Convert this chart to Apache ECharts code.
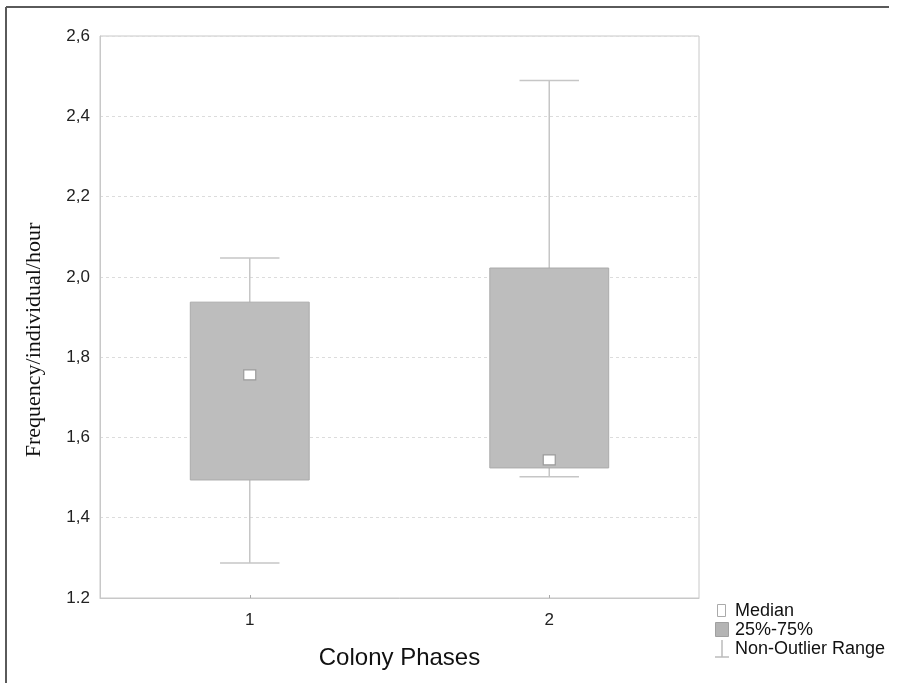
<!DOCTYPE html>
<html>
<head>
<meta charset="utf-8">
<script src="https://cdn.jsdelivr.net/npm/echarts@6/dist/echarts.min.js"></script>
<style>html,body{margin:0;padding:0;background:#fff;}#c{width:897px;height:683px;}</style>
</head>
<body>
<div id="c"></div>
<script>
const categories = ['1', '2'];
const whiskerMin = [1.287, 1.502];
const quartile1 = [1.494, 1.524];
const medians = [1.756, 1.544];
const quartile3 = [1.937, 2.022];
const whiskerMax = [2.047, 2.489];
const yTickLabels = ['1.2', '1,4', '1,6', '1,8', '2,0', '2,2', '2,4', '2,6'];
const legendLabels = ['Median', '25%-75%', 'Non-Outlier Range'];

const data = categories.map((c, i) => [i, whiskerMin[i], quartile1[i], medians[i], quartile3[i], whiskerMax[i]]);

const chart = echarts.init(document.getElementById('c'));

function renderItem(params, api) {
  const x = api.value(0);
  const pMin = api.coord([x, api.value(1)]);
  const pQ1 = api.coord([x, api.value(2)]);
  const pMed = api.coord([x, api.value(3)]);
  const pQ3 = api.coord([x, api.value(4)]);
  const pMax = api.coord([x, api.value(5)]);
  const band = api.size([1, 0])[0];
  const bw = band * 0.397;
  const cw = bw / 2;
  const cx = pMin[0];
  const ws = { stroke: '#c6c6c6', lineWidth: 1.5 };
  return {
    type: 'group',
    children: [
      { type: 'line', shape: { x1: cx, y1: pMax[1], x2: cx, y2: pQ3[1] }, style: ws },
      { type: 'line', shape: { x1: cx, y1: pQ1[1], x2: cx, y2: pMin[1] }, style: ws },
      { type: 'line', shape: { x1: cx - cw / 2, y1: pMax[1], x2: cx + cw / 2, y2: pMax[1] }, style: ws },
      { type: 'line', shape: { x1: cx - cw / 2, y1: pMin[1], x2: cx + cw / 2, y2: pMin[1] }, style: ws },
      { type: 'rect', shape: { x: cx - bw / 2, y: pQ3[1], width: bw, height: pQ1[1] - pQ3[1] },
        style: { fill: '#bdbdbd', stroke: '#ababab', lineWidth: 1 } },
      { type: 'rect', shape: { x: cx - 6, y: pMed[1] - 5, width: 12, height: 10 },
        style: { fill: '#ffffff', stroke: '#9a9a9a', lineWidth: 1.2 } }
    ]
  };
}

const option = {
  backgroundColor: '#ffffff',
  animation: false,
  grid: { left: 100, top: 36, right: 198, bottom: 85, show: true, borderColor: '#c8c8c8', borderWidth: 1, backgroundColor: 'transparent' },
  xAxis: {
    type: 'category',
    data: categories,
    boundaryGap: true,
    axisLine: { show: true, lineStyle: { color: '#c8c8c8', width: 1 } },
    axisTick: { show: true, alignWithLabel: true, inside: true, length: 3, lineStyle: { color: '#aaaaaa' } },
    axisLabel: { color: '#222', fontFamily: 'Liberation Sans', fontSize: 17, margin: 14 },
    splitLine: { show: false },
    name: 'Colony Phases',
    nameLocation: 'middle',
    nameGap: 48,
    nameTextStyle: { color: '#111', fontFamily: 'Liberation Sans', fontSize: 24 }
  },
  yAxis: {
    type: 'value',
    min: 1.2,
    max: 2.6,
    interval: 0.2,
    axisLine: { show: true, lineStyle: { color: '#c8c8c8', width: 1 } },
    axisTick: { show: false },
    axisLabel: {
      color: '#222', fontFamily: 'Liberation Sans', fontSize: 17, margin: 10,
      formatter: v => yTickLabels[Math.round((v - 1.2) / 0.2)]
    },
    splitLine: { show: true, lineStyle: { color: '#dcdcdc', type: [3, 3], width: 1 } }
  },
  series: [{
    type: 'custom',
    renderItem: renderItem,
    encode: { x: 0, y: [1, 2, 3, 4, 5] },
    data: data,
    z: 3
  }],
  graphic: [
    { type: 'line', shape: { x1: 6, y1: 7, x2: 889, y2: 7 }, style: { stroke: '#5a5a5a', lineWidth: 2 } },
    { type: 'line', shape: { x1: 6, y1: 7, x2: 6, y2: 683 }, style: { stroke: '#5a5a5a', lineWidth: 2 } },
    { type: 'text', x: 34, y: 340, rotation: Math.PI / 2,
      style: { text: 'Frequency/individual/hour', fill: '#111', font: '22px "Liberation Serif"', align: 'center', verticalAlign: 'middle' } },
    { type: 'rect', shape: { x: 717.5, y: 604.5, width: 8, height: 12 }, style: { fill: '#fff', stroke: '#aaaaaa', lineWidth: 1 } },
    { type: 'rect', shape: { x: 715.5, y: 622.5, width: 13, height: 14 }, style: { fill: '#b4b4b4', stroke: '#a0a0a0', lineWidth: 1 } },
    { type: 'line', shape: { x1: 722, y1: 640, x2: 722, y2: 657 }, style: { stroke: '#bbbbbb', lineWidth: 1.5 } },
    { type: 'line', shape: { x1: 715, y1: 657, x2: 729, y2: 657 }, style: { stroke: '#bbbbbb', lineWidth: 1.5 } },
    { type: 'text', x: 735, y: 611, style: { text: legendLabels[0], fill: '#111', font: '18px "Liberation Sans"', verticalAlign: 'middle' } },
    { type: 'text', x: 735, y: 630, style: { text: legendLabels[1], fill: '#111', font: '18px "Liberation Sans"', verticalAlign: 'middle' } },
    { type: 'text', x: 735, y: 649, style: { text: legendLabels[2], fill: '#111', font: '18px "Liberation Sans"', verticalAlign: 'middle' } }
  ]
};
chart.setOption(option);
</script>
</body>
</html>
